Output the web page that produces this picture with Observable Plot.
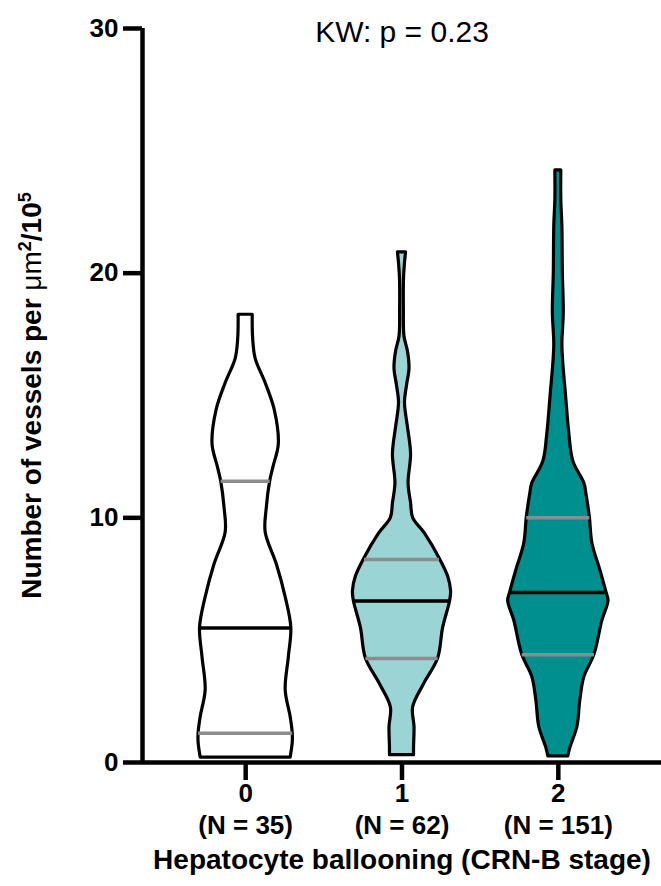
<!DOCTYPE html>
<html><head><meta charset="utf-8">
<script src="https://cdn.jsdelivr.net/npm/d3@7"></script>
<script src="https://cdn.jsdelivr.net/npm/@observablehq/plot@0.6"></script>
<style>body{margin:0;background:#fff}</style>
</head><body><div id="chart"></div>
<script>
// Categories and counts
const categories = ["0", "1", "2"];
const counts = [35, 62, 151];
const fills = ["#ffffff", "#9ad4d4", "#008f8f"];
const yTicks = [0, 10, 20, 30];

// Violin outlines: [value, half-width in category units]
const violin0 = [[18.3,.045],[17.3,.048],[16.5,.064],[15.5,.128],[14.4,.186],[13.0,.212],[12.1,.179],[11.5,.157],[10.4,.135],[9.4,.128],[8.1,.199],[6.75,.256],[5.5,.292],[4.3,.276],[2.95,.256],[1.85,.288],[1.2,.301],[0.8,.301],[0.2,.288]];
const violin1 = [[20.85,.026],[20.4,.019],[19.8,.013],[18.5,.012],[17.4,.016],[16.8,.038],[16.1,.048],[15.4,.032],[14.7,.019],[13.7,.038],[12.6,.058],[11.4,.042],[10.6,.058],[10.0,.071],[9.35,.147],[8.3,.244],[7.6,.295],[7.0,.314],[6.6,.308],[5.5,.263],[4.25,.231],[3.2,.141],[2.25,.071],[1.45,.08],[0.6,.077],[0.3,.077]];
const violin2 = [[24.2,.019],[23.0,.019],[21.9,.026],[20.0,.029],[18.4,.035],[17.1,.026],[16.3,.032],[15.1,.048],[13.4,.071],[12.3,.096],[11.4,.167],[11.0,.179],[10.0,.202],[8.95,.218],[7.85,.269],[6.95,.308],[6.6,.321],[5.8,.282],[4.4,.231],[3.5,.167],[2.55,.141],[1.45,.122],[0.6,.077],[0.25,.064]];

// Quartiles and the violin half-width at each
const q1 = [1.2, 4.25, 4.4];
const q1Width = [.301, .231, .231];
const medians = [5.5, 6.6, 6.95];
const medianWidth = [.298, .307, .307];
const q3 = [11.5, 8.3, 10.0];
const q3Width = [.157, .24, .202];

const pLabel = "KW: p = 0.23";
const xTitle = "Hepatocyte ballooning (CRN-B stage)";
// [text, style] parts of the y title: plain, regular weight, superscript
const yTitleParts = [["Number of vessels per ", ""], ["μm", "regular"], ["2", "sup"], ["/10", ""], ["5", "sup"]];
const yTitle = yTitleParts.map(p => p[0]).join("");

const xDomain = [-0.66, categories.length - 1 + 0.66];
const mid = (categories.length - 1) / 2;

const shapes = [violin0, violin1, violin2].flatMap((arr, g) => arr.map(([v, w]) => ({g, v, w})));
const stats = categories.flatMap((c, g) => [
  {g, v: q1[g], w: q1Width[g], color: "#8c8c8c"},
  {g, v: q3[g], w: q3Width[g], color: "#8c8c8c"},
  {g, v: medians[g], w: medianWidth[g], color: "#000000"}
]);

const font = "'Liberation Sans', Arial, Helvetica, sans-serif";

const chart = Plot.plot({
  width: 661, height: 886,
  marginTop: 28, marginBottom: 124, marginLeft: 142, marginRight: 0,
  style: {fontFamily: font, background: "#fff", color: "#000"},
  x: {domain: xDomain, axis: null},
  y: {domain: [0, 30], axis: null},
  color: {type: "identity"},
  marks: [
    Plot.areaX(shapes, {y: "v", x1: d => d.g - d.w, x2: d => d.g + d.w, z: "g", fill: d => fills[d.g], stroke: "#000", strokeWidth: 3.2, curve: "catmull-rom"}),
    Plot.ruleY(stats, {y: "v", x1: d => d.g - d.w, x2: d => d.g + d.w, stroke: "color", strokeWidth: 3.5}),
    Plot.ruleY([0], {strokeWidth: 4.5}),
    Plot.ruleX([xDomain[0]], {strokeWidth: 4.5}),
    Plot.axisY({ticks: yTicks, tickSize: 19, tickPadding: 5, fontSize: 26, fontWeight: "bold", strokeWidth: 4.5, label: null}),
    Plot.axisX({ticks: categories.map((c, i) => i), tickSize: 18, tickFormat: () => "", strokeWidth: 4.5, label: null}),
    Plot.text(categories, {x: (d, i) => i, text: d => d, frameAnchor: "bottom", dy: 39, fontSize: 26, fontWeight: "bold"}),
    Plot.text(counts, {x: (d, i) => i, text: d => `(N = ${d})`, frameAnchor: "bottom", dy: 71, fontSize: 26, fontWeight: "bold"}),
    Plot.text([xTitle], {x: () => mid, text: d => d, frameAnchor: "bottom", dy: 106, fontSize: 28, fontWeight: "bold"}),
    Plot.text([pLabel], {x: () => mid, text: d => d, frameAnchor: "top", dy: -8, fontSize: 30}),
    Plot.text([yTitle], {text: d => d, frameAnchor: "left", textAnchor: "middle", dx: -110, rotate: -90, fontSize: 28, fontWeight: "bold"})
  ]
});

// Style parts of the y title: regular-weight "μm" and raised exponents
chart.querySelectorAll("text").forEach(t => {
  if (t.textContent === yTitle) {
    t.textContent = "";
    yTitleParts.forEach(([part, kind]) => {
      const ts = document.createElementNS("http://www.w3.org/2000/svg", "tspan");
      ts.textContent = part;
      if (kind === "regular") ts.setAttribute("font-weight", "normal");
      if (kind === "sup") {
        ts.setAttribute("font-size", "18");
        ts.setAttribute("baseline-shift", "super");
      }
      t.appendChild(ts);
    });
  }
});
document.getElementById("chart").appendChild(chart);
</script>
</body></html>
